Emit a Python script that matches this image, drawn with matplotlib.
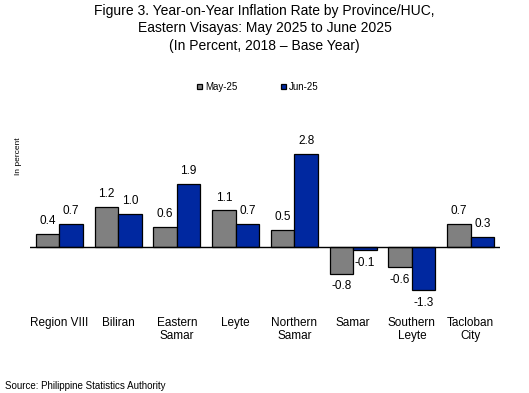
import matplotlib
matplotlib.use("Agg")
import matplotlib.pyplot as plt
import numpy as np

plt.rcParams['font.family'] = ['Liberation Sans', 'DejaVu Sans']

categories = ["Region VIII", "Biliran", "Eastern\nSamar", "Leyte", "Northern\nSamar",
              "Samar", "Southern\nLeyte", "Tacloban\nCity"]
may25 = [0.4, 1.2, 0.6, 1.1, 0.5, -0.8, -0.6, 0.7]
jun25 = [0.7, 1.0, 1.9, 0.7, 2.8, -0.1, -1.3, 0.3]
series_names = ["May-25", "Jun-25"]

W, H = 529, 393
fig = plt.figure(figsize=(W / 100, H / 100), dpi=100)
ax = fig.add_axes([30 / W, 82 / H, 470 / W, 171 / H])

x = np.arange(len(categories))
bw = 0.4
b1 = ax.bar(x - bw / 2, may25, bw, color='#808080', edgecolor='black', linewidth=0.9, label=series_names[0])
b2 = ax.bar(x + bw / 2, jun25, bw, color='#0028A0', edgecolor='black', linewidth=0.9, label=series_names[1])

for bars, vals in ((b1, may25), (b2, jun25)):
    for r, v in zip(bars, vals):
        cx = r.get_x() + r.get_width() / 2
        if v >= 0:
            ax.annotate(f"{v:.1f}", (cx, v), xytext=(0, 5), textcoords='offset points',
                        ha='center', va='bottom', fontsize=8.5)
        else:
            ax.annotate(f"{v:.1f}", (cx, v), xytext=(0, -5), textcoords='offset points',
                        ha='center', va='top', fontsize=8.5)

ax.set_xlim(-0.5, len(categories) - 0.5)
ax.set_ylim(-1.928, 3.223)
ax.axhline(0, color='black', linewidth=1)
for s in ax.spines.values():
    s.set_visible(False)
ax.set_yticks([])
ax.set_xticks(x)
ax.set_xticklabels(categories, fontsize=8.5, linespacing=1.15)
ax.tick_params(axis='x', length=0, pad=4)

fig.text(18 / W, 1 - 156 / H, "In percent", fontsize=6, rotation=90, ha='center', va='center')

fig.text(0.5, 1 - 4 / H, "Figure 3. Year-on-Year Inflation Rate by Province/HUC,\nEastern Visayas: May 2025 to June 2025\n(In Percent, 2018 \u2013 Base Year)",
         ha='center', va='top', fontsize=10, linespacing=1.3)

leg = fig.legend(handles=[b1, b2], loc='center', bbox_to_anchor=(258 / W, 1 - 87 / H),
                 ncol=2, frameon=False, fontsize=7, handlelength=0.5, handleheight=0.5,
                 handletextpad=0.3, columnspacing=4.5)

fig.text(5 / W, 1 - 386 / H, "Source: Philippine Statistics Authority", fontsize=7, ha='left', va='center')

fig.savefig("out.png", dpi=100)
